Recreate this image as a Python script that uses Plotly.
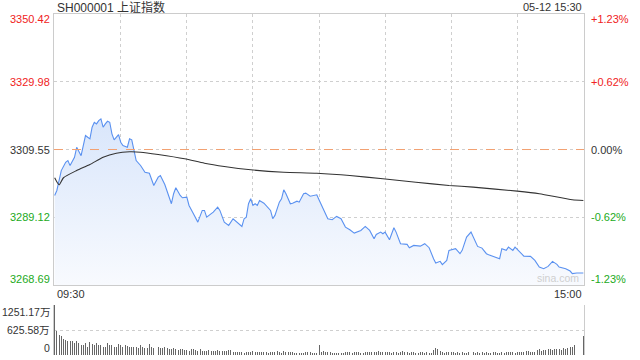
import plotly.graph_objects as go

# ---------------- data ----------------
prev_close = 3309.55
y_low, y_high = 3268.69, 3350.42

price_minute = [0, 1, 3, 5, 6, 7, 9, 10, 12, 13, 14, 15, 16, 17, 18, 19, 20, 21, 22, 23,
                24, 25, 26, 27, 28, 29, 30, 31, 33, 34, 35, 36, 37, 39, 41, 43, 45, 47, 48, 50,
                51, 53, 54, 55, 57, 58, 60, 61, 63, 65, 67, 68, 69, 72, 74, 75, 77, 79, 81, 83,
                85, 86, 87, 88, 89, 90, 91, 92, 93, 95, 97, 98, 99, 100, 102, 103, 104, 105, 107, 108,
                110, 111, 113, 114, 116, 119, 120, 122, 124, 126, 128, 130, 132, 134, 136, 139, 141, 143, 145, 146,
                148, 149, 150, 152, 154, 155, 157, 160, 161, 163, 166, 168, 170, 172, 173, 175, 176, 178, 179, 182,
                184, 185, 187, 189, 190, 192, 194, 196, 197, 200, 202, 203, 205, 206, 208, 209, 211, 213, 216, 218,
                220, 222, 224, 226, 228, 229, 232, 234, 235, 237, 240]
price_value = [3295.70, 3297.20, 3303.20, 3305.70, 3306.20, 3304.70, 3307.20, 3310.20, 3307.70, 3310.75,
               3313.77, 3313.25, 3312.77, 3316.27, 3317.77, 3317.29, 3318.28, 3318.80, 3316.27, 3317.29,
               3318.07, 3317.77, 3314.28, 3312.47, 3313.25, 3314.07, 3311.75, 3310.75, 3310.24, 3312.77,
               3312.47, 3309.25, 3306.24, 3304.73, 3302.71, 3302.41, 3298.71, 3301.21, 3301.72, 3299.01,
               3297.20, 3293.20, 3296.21, 3298.01, 3295.69, 3295.00, 3295.18, 3292.68, 3290.18, 3287.65,
               3291.18, 3291.18, 3289.16, 3290.67, 3292.17, 3291.18, 3287.65, 3286.66, 3288.68, 3287.65,
               3286.36, 3288.68, 3289.16, 3293.20, 3294.70, 3292.68, 3293.20, 3292.68, 3294.19, 3293.37,
               3291.99, 3291.18, 3288.68, 3289.67, 3293.68, 3294.70, 3297.41, 3296.21, 3293.20, 3293.37,
               3293.98, 3293.68, 3296.21, 3296.39, 3295.48, 3295.90, 3294.40, 3291.69, 3288.68, 3288.38,
               3289.37, 3288.68, 3286.15, 3285.36, 3284.34, 3285.15, 3286.36, 3285.15, 3282.65, 3283.95,
               3284.64, 3284.16, 3284.64, 3282.35, 3285.97, 3284.64, 3281.15, 3280.94, 3279.94, 3280.63,
               3280.42, 3281.15, 3279.94, 3276.63, 3275.30, 3275.82, 3274.82, 3276.12, 3279.13, 3279.64,
               3278.13, 3279.13, 3283.13, 3284.64, 3283.35, 3280.33, 3279.82, 3278.13, 3277.83, 3277.11,
               3276.63, 3279.64, 3279.13, 3280.12, 3279.13, 3280.12, 3278.62, 3277.41, 3277.32, 3276.12,
               3274.10, 3273.62, 3274.31, 3275.82, 3274.91, 3274.10, 3273.62, 3272.90, 3272.11, 3272.29,
               3272.29]

avg_minute = [0, 2, 4, 10, 16, 22, 28, 34, 39, 47, 59, 68, 77, 89, 104, 119, 134, 149, 164, 179,
              190, 210, 220, 235, 240]
avg_value = [3301.03, 3298.92, 3301.03, 3303.22, 3305.03, 3307.23, 3308.44, 3308.86, 3308.74, 3308.04,
             3306.75, 3305.42, 3304.43, 3303.44, 3302.71, 3302.41, 3301.72, 3300.72, 3299.70, 3298.71,
             3298.20, 3296.99, 3296.21, 3294.40, 3294.19]

# volume in 万 (one bar per minute, 241 minutes)
volume_am = [1251, 590, 506, 465, 405, 380, 338, 338, 338, 304, 338, 295, 262, 262, 300, 211, 321, 280,
             262, 300, 262, 262, 211, 211, 300, 262, 240, 211, 211, 280, 240, 211, 250, 230, 211, 190,
             211, 190, 170, 250, 211, 170, 170, 280, 190, 170, 211, 190, 170, 170, 190, 170, 150, 150,
             170, 150, 130, 150, 150, 130, 130, 110, 150, 150, 130, 110, 150, 110, 110, 110, 130, 110,
             100, 100, 130, 100, 90, 90, 90, 120, 120]
volume_mid = [85, 85, 85, 70, 85, 60, 85, 70, 85, 110,
              85, 70, 70, 70, 70, 70, 60, 70, 70, 70,
              100, 70, 60, 100, 85, 85, 85, 70, 60, 50,
              60, 40, 60, 70, 70, 70, 60, 50, 60,
              240,
              85, 110, 85, 85, 85, 60, 60, 60, 60, 60,
              60, 70, 70, 70, 60, 70, 70, 85, 60, 60,
              70, 85, 70, 70, 70, 85, 100, 70, 70, 70,
              85, 85, 60, 85, 85, 60, 85, 100, 70, 85, 60]
volume_pm = [70, 85, 60, 60, 70, 70, 60, 70, 60, 60,
             130, 170, 160, 100,
             85, 60, 85, 70, 85, 70,
             60, 70, 60, 70, 60, 60,
             85, 110, 85,
             60, 85, 60, 70, 60, 85, 60,
             60, 70, 70, 60, 60, 85, 60,
             70, 85, 70, 70, 60, 85,
             85, 85, 85, 110, 100, 70,
             85, 85, 130, 160, 110,
             130, 130, 150, 160, 120,
             150, 160, 160, 130, 170, 150,
             170, 200, 210, 240,
             10, 10, 10,
             464]
volume = volume_am + volume_mid + volume_pm
volume_minute = list(range(len(volume)))

vol_max = 1251.17
vol_mid = 625.58

price_ticks = [3350.42, 3329.98, 3309.55, 3289.12, 3268.69]
price_tick_text = ["3350.42", "3329.98", "3309.55", "3289.12", "3268.69"]
pct_tick_text = ["+1.23%", "+0.62%", "0.00%", "-0.62%", "-1.23%"]
vol_ticks = [1251.17, 625.58, 0]
vol_tick_text = ["1251.17万", "625.58万", "0"]
time_grid = [30, 60, 90, 120, 150, 180, 210]

title_text = "SH000001 上证指数"
date_text = "05-12 15:30"
start_label, end_label = "09:30", "15:00"
watermark = "sina.com"

# ---------------- styling ----------------
FONT = "'Liberation Sans', Arial, 'Noto Sans CJK SC', sans-serif"
RED, GREEN, DARK = "#f02222", "#22aa22", "#333333"
GRID = "#cfcfcf"
BORDER = "#cccccc"

def tick_color(v):
    if v > prev_close + 1e-6:
        return RED
    if v < prev_close - 1e-6:
        return GREEN
    return DARK

fig = go.Figure()

fig.add_trace(go.Scatter(
    x=price_minute, y=price_value, mode="lines",
    line=dict(color="#5a91f0", width=1.1),
    fill="tozeroy",
    fillgradient=dict(type="vertical",
                      colorscale=[[0, "#f8fafe"], [1, "#d9e6fb"]],
                      start=y_low, stop=3318.8),
    xaxis="x", yaxis="y", hoverinfo="skip", showlegend=False))

fig.add_trace(go.Scatter(
    x=avg_minute, y=avg_value, mode="lines",
    line=dict(color="#333333", width=1.1, shape="spline", smoothing=0.6),
    xaxis="x", yaxis="y", hoverinfo="skip", showlegend=False))

fig.add_trace(go.Bar(
    x=volume_minute, y=volume, marker=dict(color="#666666", line=dict(width=0)),
    width=0.45, xaxis="x2", yaxis="y2", hoverinfo="skip", showlegend=False))

W, H = 640, 360
left_px, right_px = 54, 584
dom_x = [left_px / W, right_px / W]
dom_y = [1 - 285 / H, 1 - 14 / H]
dom_y2 = [1 - 355 / H, 1 - 305 / H]
xr = [-0.3, 240.3]

fig.update_layout(
    width=W, height=H, autosize=False,
    margin=dict(l=0, r=0, t=0, b=0),
    paper_bgcolor="white", plot_bgcolor="white",
    font=dict(family=FONT, size=11, color=DARK),
    bargap=0,
    xaxis=dict(domain=dom_x, range=xr, anchor="y", tickvals=time_grid,
               showticklabels=False, ticks="", showgrid=True, gridcolor=GRID,
               griddash="dot", gridwidth=1, zeroline=False,
               showline=True, mirror=True, linecolor=BORDER, linewidth=1),
    yaxis=dict(domain=dom_y, range=[y_low, y_high], anchor="x",
               tickvals=price_ticks[1:4], showticklabels=False, ticks="",
               showgrid=True, gridcolor=GRID, griddash="dot", gridwidth=1,
               zeroline=False, showline=True, mirror=True, linecolor=BORDER, linewidth=1),
    xaxis2=dict(domain=dom_x, range=xr, anchor="y2", showticklabels=False,
                showgrid=False, zeroline=False, showline=False, ticks=""),
    yaxis2=dict(domain=dom_y2, range=[0, vol_max], anchor="x2",
                tickvals=[vol_mid, vol_max], showticklabels=False, ticks="",
                showgrid=True, gridcolor=GRID, griddash="dot", gridwidth=1,
                zeroline=False, showline=True, mirror=True, linecolor=BORDER, linewidth=1),
)

# previous-close reference line
fig.add_shape(type="line", xref="x domain", x0=0, x1=1, yref="y", y0=prev_close, y1=prev_close,
              line=dict(color="#f2a070", width=1, dash="dash"), layer="above")

ann = []
shifts = [-5, 0, 0, 0, 6]
for v, t, p, s in zip(price_ticks, price_tick_text, pct_tick_text, shifts):
    c = tick_color(v)
    ann.append(dict(xref="paper", x=(left_px - 2) / W, xanchor="right", yref="y", y=v,
                    yanchor="middle", yshift=s, text=t, showarrow=False,
                    font=dict(size=11, color=c)))
    ann.append(dict(xref="paper", x=(right_px + 5) / W, xanchor="left", yref="y", y=v,
                    yanchor="middle", yshift=s, text=p, showarrow=False,
                    font=dict(size=11, color=c)))
for v, t, s in zip(vol_ticks, vol_tick_text, [-7, 0, 7]):
    ann.append(dict(xref="paper", x=(left_px - 2) / W, xanchor="right", yref="y2", y=v,
                    yanchor="middle", yshift=s, text=t, showarrow=False,
                    font=dict(size=10.5, color=DARK)))

ann.append(dict(xref="paper", x=(left_px + 1) / W, xanchor="left", yref="paper", y=1 - 7 / H,
                yanchor="middle", text=title_text, showarrow=False,
                font=dict(size=12, color=DARK)))
ann.append(dict(xref="paper", x=right_px / W, xanchor="right", yref="paper", y=1 - 7 / H,
                yanchor="middle", text=date_text, showarrow=False,
                font=dict(size=11, color=DARK)))
ann.append(dict(xref="paper", x=(left_px + 1) / W, xanchor="left", yref="paper", y=1 - 294 / H,
                yanchor="middle", text=start_label, showarrow=False,
                font=dict(size=11, color=DARK)))
ann.append(dict(xref="paper", x=right_px / W, xanchor="right", yref="paper", y=1 - 294 / H,
                yanchor="middle", text=end_label, showarrow=False,
                font=dict(size=11, color=DARK)))
ann.append(dict(xref="paper", x=(right_px - 3) / W, xanchor="right", yref="paper", y=1 - 278 / H,
                yanchor="middle", text=watermark, showarrow=False,
                font=dict(size=10.5, color="#cfcfcf")))

fig.update_layout(annotations=ann)

fig.write_html("out.html",
               config={"displayModeBar": False, "staticPlot": True},
               post_script="document.body.style.margin='0';document.body.style.overflow='hidden';")
